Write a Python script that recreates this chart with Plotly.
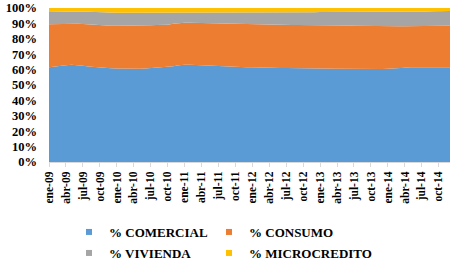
import plotly.graph_objects as go

meses = ["ene", "feb", "mar", "abr", "may", "jun", "jul", "ago", "sep", "oct", "nov", "dic"]
anios = ["09", "10", "11", "12", "13", "14"]
categorias = [f"{m}-{a}" for a in anios for m in meses]

comercial = [
    61.5, 61.8, 62.3, 62.8, 63.2, 63.0, 62.5, 62.0, 61.6, 61.2, 61.0, 60.8,
    60.7, 60.6, 60.5, 60.4, 60.5, 60.7, 61.0, 61.3, 61.5, 61.6, 62.2, 62.8,
    63.2, 63.1, 62.9, 62.7, 62.5, 62.4, 62.3, 62.2, 62.1, 62.0, 61.8, 61.6,
    61.5, 61.5, 61.4, 61.3, 61.2, 61.1, 61.0, 60.9, 60.9, 60.8, 60.8, 60.8,
    60.8, 60.7, 60.7, 60.6, 60.6, 60.5, 60.5, 60.4, 60.4, 60.4, 60.4, 60.4,
    60.5, 60.6, 60.8, 61.2, 61.5, 61.5, 61.4, 61.3, 61.3, 61.4, 61.5, 61.5,
]
consumo = [
    28.0, 27.8, 27.4, 27.0, 26.7, 26.8, 27.1, 27.3, 27.4, 27.5, 27.5, 27.6,
    27.7, 27.8, 27.9, 28.1, 28.1, 28.0, 27.8, 27.6, 27.5, 27.6, 27.6, 27.5,
    27.3, 27.3, 27.4, 27.5, 27.6, 27.6, 27.6, 27.6, 27.6, 27.6, 27.7, 27.8,
    27.9, 27.8, 27.9, 27.9, 27.9, 28.0, 28.0, 28.1, 28.1, 28.2, 28.2, 28.2,
    28.2, 28.2, 28.2, 28.2, 28.1, 28.1, 28.0, 28.0, 27.9, 27.8, 27.7, 27.6,
    27.5, 27.4, 27.3, 26.9, 26.7, 26.8, 26.9, 27.0, 27.0, 27.0, 26.9, 26.9,
]
vivienda = [
    7.9, 7.9, 7.9, 8.0, 8.0, 8.0, 8.1, 8.2, 8.3, 8.4, 8.5, 8.5,
    8.5, 8.5, 8.5, 8.4, 8.3, 8.2, 8.1, 8.0, 7.9, 7.7, 7.3, 6.9,
    6.7, 6.8, 6.9, 7.0, 7.1, 7.2, 7.3, 7.4, 7.5, 7.6, 7.7, 7.8,
    7.8, 7.9, 7.9, 8.0, 8.1, 8.1, 8.2, 8.2, 8.2, 8.3, 8.3, 8.3,
    8.4, 8.5, 8.5, 8.6, 8.7, 8.8, 8.9, 9.0, 9.1, 9.2, 9.3, 9.4,
    9.5, 9.5, 9.5, 9.6, 9.6, 9.5, 9.5, 9.5, 9.6, 9.6, 9.7, 9.7,
]
microcredito = [
    2.6, 2.5, 2.4, 2.2, 2.1, 2.2, 2.3, 2.5, 2.7, 2.9, 3.0, 3.1,
    3.1, 3.1, 3.1, 3.1, 3.1, 3.1, 3.1, 3.1, 3.1, 3.1, 2.9, 2.8,
    2.8, 2.8, 2.8, 2.8, 2.8, 2.8, 2.8, 2.8, 2.8, 2.8, 2.8, 2.8,
    2.8, 2.8, 2.8, 2.8, 2.8, 2.8, 2.8, 2.8, 2.8, 2.7, 2.7, 2.7,
    2.6, 2.6, 2.6, 2.6, 2.6, 2.6, 2.6, 2.6, 2.6, 2.6, 2.6, 2.6,
    2.5, 2.5, 2.4, 2.3, 2.2, 2.2, 2.2, 2.2, 2.1, 2.0, 1.9, 1.9,
]

series = [
    ("% COMERCIAL", comercial, "#5B9BD5"),
    ("% CONSUMO", consumo, "#ED7D31"),
    ("% VIVIENDA", vivienda, "#A5A5A5"),
    ("% MICROCREDITO", microcredito, "#FFC000"),
]
legend_ids = ["legend", "legend2", "legend3", "legend4"]
legend_pos = [(69, 232), (209, 232), (69, 253), (209, 253)]  # px (left, middle)

W, H = 457, 272
FAM = "Liberation Serif, Times New Roman, serif"
font = dict(family=FAM, size=11, color="#000000", weight="bold")

fig = go.Figure()
for (nombre, valores, color), leg in zip(series, legend_ids):
    fig.add_trace(go.Scatter(
        x=categorias, y=valores, name=nombre, mode="lines",
        stackgroup="uno", groupnorm="percent",
        line=dict(width=0, color=color), fillcolor=color,
        showlegend=False, hoverinfo="skip",
    ))
    fig.add_trace(go.Scatter(
        x=[None], y=[None], name=nombre, mode="markers",
        marker=dict(symbol="square", size=6, color=color),
        legend=leg, showlegend=True,
    ))

layout_legends = {}
for leg, (lx, ly) in zip(legend_ids, legend_pos):
    layout_legends[leg] = dict(
        xref="container", yref="container",
        x=lx / W, xanchor="left", y=1 - ly / H, yanchor="middle",
        font=dict(family=FAM, size=13, color="#000000", weight="bold"),
        bgcolor="rgba(0,0,0,0)", traceorder="normal",
        itemclick=False, itemdoubleclick=False,
    )

fig.update_layout(
    width=W, height=H,
    margin=dict(l=49, r=7, t=8, b=110, autoexpand=False),
    paper_bgcolor="white", plot_bgcolor="white",
    font=font,
    xaxis=dict(
        type="category", range=[0, 71],
        tickvals=categorias[::3], ticktext=categorias[::3],
        tickangle=-90, ticks="outside", ticklen=4, tickcolor="#D9D9D9",
        showline=True, linecolor="#D9D9D9", linewidth=1,
        showgrid=False, zeroline=False, tickfont=dict(font, size=11.5),
    ),
    yaxis=dict(
        range=[0, 100], tickvals=list(range(0, 101, 10)),
        ticktext=[f"{v}%" for v in range(0, 101, 10)],
        showgrid=False, zeroline=False, showline=False,
        ticklabelstandoff=11, tickfont=dict(font, size=12.5),
    ),
    **layout_legends,
)

fig.write_html("out.html")
